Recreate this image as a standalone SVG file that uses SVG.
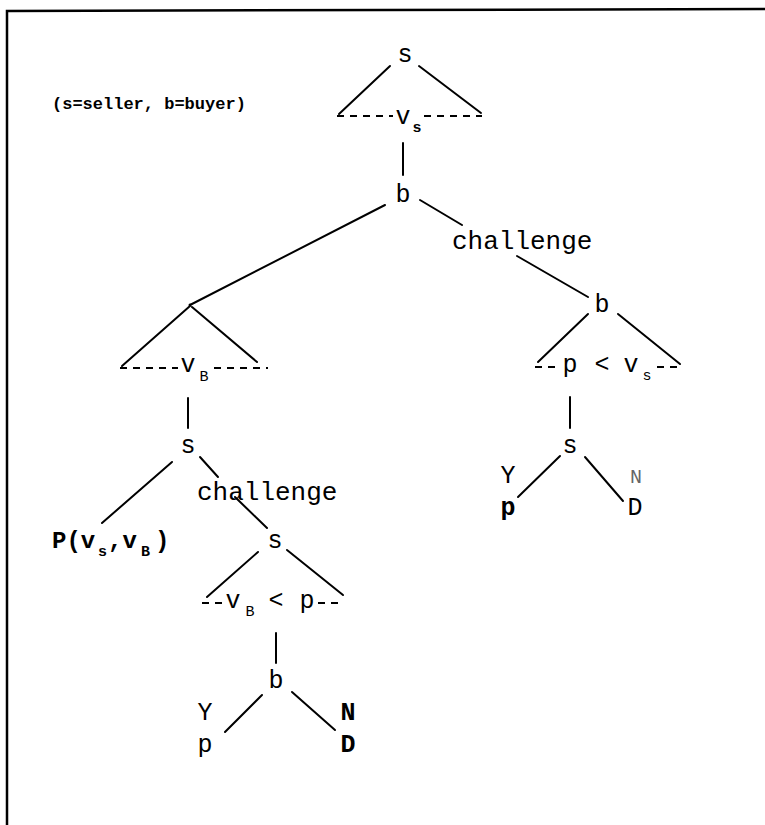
<svg xmlns="http://www.w3.org/2000/svg" width="765" height="825" viewBox="0 0 765 825">
<style>
.t{font-family:"Liberation Mono","Courier New",monospace;font-size:25px;fill:#000;text-anchor:middle}
.b{font-weight:bold}
.sub{font-size:15px}
.leg{font-family:"Liberation Mono","Courier New",monospace;font-size:17px;font-weight:bold;fill:#000}
.ln{stroke:#000;stroke-width:2;fill:none;stroke-linecap:round}
.ds{stroke:#000;stroke-width:2;fill:none;stroke-dasharray:7 6}
.frame{stroke:#000;stroke-width:2.5;fill:none}
</style>
<rect x="0" y="0" width="765" height="825" fill="#fff"/>
<path class="frame" d="M7,825 L7,11 L765,9"/>
<text class="leg" x="52" y="109">(s=seller, b=buyer)</text>
<g id="connectors">
<line class="ln" x1="390" y1="66" x2="339" y2="114"/>
<line class="ln" x1="419" y1="66" x2="481" y2="113"/>
<line class="ln" x1="403" y1="143" x2="403" y2="175"/>
<line class="ln" x1="385" y1="205" x2="190" y2="305"/>
<line class="ln" x1="420" y1="200" x2="462" y2="225"/>
<line class="ln" x1="517" y1="256" x2="588" y2="297"/>
<line class="ln" x1="588" y1="314" x2="538" y2="362"/>
<line class="ln" x1="618" y1="314" x2="680" y2="364"/>
<line class="ln" x1="570" y1="397" x2="570" y2="428"/>
<line class="ln" x1="560" y1="456" x2="518" y2="497"/>
<line class="ln" x1="585" y1="457" x2="623" y2="501"/>
<line class="ln" x1="190" y1="306" x2="122" y2="366"/>
<line class="ln" x1="192" y1="307" x2="257" y2="362"/>
<line class="ln" x1="188" y1="398" x2="188" y2="428"/>
<line class="ln" x1="172" y1="462" x2="102" y2="523"/>
<line class="ln" x1="200" y1="457" x2="218" y2="477"/>
<line class="ln" x1="235" y1="497" x2="267" y2="528"/>
<line class="ln" x1="258" y1="552" x2="207" y2="597"/>
<line class="ln" x1="287" y1="550" x2="343" y2="595"/>
<line class="ln" x1="276" y1="633" x2="276" y2="663"/>
<line class="ln" x1="262" y1="695" x2="225" y2="732"/>
<line class="ln" x1="292" y1="692" x2="335" y2="730"/>
<line class="ds" x1="337" y1="116" x2="393" y2="116"/>
<line class="ds" x1="424" y1="116" x2="482" y2="116"/>
<line class="ds" x1="120" y1="368" x2="178" y2="368"/>
<line class="ds" x1="214" y1="368" x2="268" y2="368"/>
<line class="ds" x1="535" y1="367" x2="558" y2="367"/>
<line class="ds" x1="657" y1="367" x2="682" y2="367"/>
<line class="ds" x1="202" y1="603" x2="223" y2="603"/>
<line class="ds" x1="318" y1="603" x2="343" y2="603"/>
</g>
<g id="n-root"><text class="t" x="405" y="62">s</text></g>
<g id="is-vs"><text class="t" x="403" y="124">v</text><text class="t sub b" x="417" y="132">s</text></g>
<g id="n-b1"><text class="t" x="403" y="202">b</text></g>
<g id="lbl-challenge1"><text class="t" x="452" y="249" style="text-anchor:start;font-size:26px">challenge</text></g>
<g id="n-b2"><text class="t" x="602" y="312">b</text></g>
<g id="is-p-vs"><text class="t" x="570" y="372">p</text><text class="t" x="602" y="372">&lt;</text><text class="t" x="631" y="372">v</text><text class="t sub" x="647" y="380">s</text></g>
<g id="n-s-right"><text class="t" x="570" y="453">s</text></g>
<g id="leaf-right-Y"><text class="t" x="508" y="483">Y</text><text class="t b" x="508" y="515">p</text></g>
<g id="leaf-right-N"><text class="t" x="636" y="483" style="font-size:20px;fill:#666">N</text><text class="t" x="635" y="515">D</text></g>
<g id="n-dot"><circle cx="190" cy="305" r="1.5" fill="#000"/></g>
<g id="is-vB"><text class="t" x="188" y="372">v</text><text class="t sub" x="204" y="381">B</text></g>
<g id="n-s-left"><text class="t" x="188" y="453">s</text></g>
<g id="leaf-P"><text class="t b" style="text-anchor:start;font-size:24px" y="548"><tspan x="52">P(v</tspan><tspan class="sub" x="98" y="556">s</tspan><tspan x="108" y="548">,v</tspan><tspan class="sub" x="141" y="556">B</tspan><tspan x="155" y="548">)</tspan></text></g>
<g id="lbl-challenge2"><text class="t" x="197" y="500" style="text-anchor:start;font-size:26px">challenge</text></g>
<g id="n-s2"><text class="t" x="275" y="548">s</text></g>
<g id="is-vB-p"><text class="t" x="233" y="608">v</text><text class="t sub" x="250" y="616">B</text><text class="t" x="276" y="608">&lt;</text><text class="t" x="307" y="608">p</text></g>
<g id="n-b3"><text class="t" x="276" y="688">b</text></g>
<g id="leaf-Y"><text class="t" x="205" y="720">Y</text><text class="t" x="205" y="752">p</text></g>
<g id="leaf-N"><text class="t b" x="348" y="720">N</text><text class="t b" x="348" y="752">D</text></g>
</svg>
